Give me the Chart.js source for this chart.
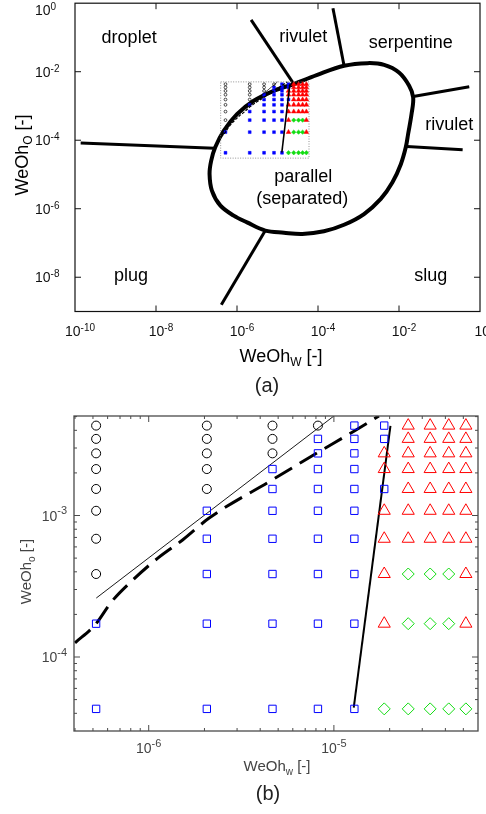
<!DOCTYPE html>
<html>
<head>
<meta charset="utf-8">
<script src="https://cdn.jsdelivr.net/npm/chart.js@4.4.1/dist/chart.umd.min.js"></script>
<style>
  html, body { margin: 0; padding: 0; background: #fff; }
  body { width: 486px; height: 814px; position: relative; overflow: hidden; }
  .panel { position: absolute; left: 0; width: 486px; }
  #panelA { top: 0; height: 400px; }
  #panelB { top: 400px; height: 414px; }
</style>
</head>
<body>
<div class="panel" id="panelA"><canvas id="mapChart"></canvas></div>
<div class="panel" id="panelB"><canvas id="zoomChart"></canvas></div>
<script>
// measured operating grid (panel b), WeOh of water (columns) and oil (rows, top first)
const weOhW = [5.2e-7, 2.06e-6, 4.66e-6, 8.2e-6, 1.29e-5, 1.87e-5, 2.52e-5, 3.31e-5, 4.17e-5, 5.16e-5];
const weOhO = [4.32e-3, 3.48e-3, 2.75e-3, 2.13e-3, 1.54e-3, 1.08e-3, 6.85e-4, 3.86e-4, 1.72e-4, 4.3e-5];
// observed regime per column: o droplet, s parallel, t rivulet, d serpentine
const regimeByColumn = [
  "ooooooooss",
  "ooooosssss",
  "ooosssssss",
  "osssssssss",
  "ssssssssss",
  "ssttsttttd",
  "tttttttddd",
  "tttttttddd",
  "tttttttddd",
  "tttttttttd"
];

// panel b boundaries
const fitLineW = [5.21e-7, 1.0e-5];
const fitLineO = [2.61e-4, 5.05e-3];
const dashedW = [4.0e-7, 5.14e-7, 6.32e-7, 8.24e-7, 1.12e-6, 1.53e-6, 2.12e-6, 4.66e-6, 8.2e-6, 1.29e-5, 1.75e-5];
const dashedO = [1.26e-4, 1.69e-4, 2.47e-4, 3.52e-4, 5.0e-4, 6.74e-4, 9.59e-4, 1.79e-3, 2.79e-3, 3.96e-3, 5.06e-3];
const transitionW = [1.28e-5, 2.02e-5];
const transitionO = [4.38e-5, 4.3e-3];

// panel a: parallel-flow envelope and regime boundaries
const envelopeW = [2.54e-5, 9.6e-5, 4.4e-4, 1.66e-3, 4.3e-3, 1.0e-2, 1.78e-2, 2.24e-2, 2.04e-2, 1.68e-2, 1.47e-2,
  1.11e-2, 6.9e-3, 3.55e-3, 1.37e-3, 4.4e-4, 1.4e-4, 4.1e-5, 1.44e-5, 5.0e-6, 1.77e-6, 8.3e-7, 3.9e-7, 2.4e-7,
  2.1e-7, 2.3e-7, 2.9e-7, 4.7e-7, 1.0e-6, 2.6e-6, 8.1e-6, 2.54e-5];
const envelopeO = [4.35e-3, 8.1e-3, 1.49e-2, 1.78e-2, 1.59e-2, 9.5e-3, 3.9e-3, 1.77e-3, 5.8e-4, 1.52e-4, 6.2e-5,
  2.0e-5, 5.9e-6, 1.93e-6, 7.0e-7, 3.4e-7, 2.2e-7, 1.84e-7, 2.0e-7, 2.3e-7, 4.0e-7, 6.3e-7, 1.23e-6, 3.4e-6,
  1.04e-5, 2.5e-5, 6.2e-5, 1.89e-4, 5.8e-4, 1.42e-3, 2.77e-3, 4.35e-3];
const boundaryW = [
  [2.23e-6, 2.54e-5],
  [2.34e-4, 4.4e-4],
  [2.24e-2, 0.543],
  [1.56e-2, 0.373],
  [1.38e-10, 2.8e-7],
  [5.0e-6, 4.1e-7]
];
const boundaryO = [
  [0.326, 4.35e-3],
  [0.715, 1.49e-2],
  [1.89e-3, 3.63e-3],
  [6.6e-5, 5.3e-5],
  [8.3e-5, 5.8e-5],
  [2.3e-7, 1.57e-9]
];
const regionNames = ["droplet", "rivulet", "serpentine", "rivulet", "parallel", "(separated)", "plug", "slug"];
const regionW = [2.17e-9, 4.3e-5, 1.96e-2, 0.174, 4.3e-5, 4.1e-5, 2.43e-9, 6.1e-2];
const regionO = [0.099, 0.104, 0.071, 2.83e-4, 8.2e-6, 1.93e-6, 1.12e-8, 1.12e-8];

// axis ranges and labelled ticks
const mapRangeW = [1e-10, 1];
const mapRangeO = [1e-9, 1];
const mapTicksW = [1e-10, 1e-8, 1e-6, 1e-4, 1e-2, 1];
const mapTicksO = [1e-8, 1e-6, 1e-4, 1e-2, 1];
const zoomRangeW = [3.95e-7, 6.0e-5];
const zoomRangeO = [3.0e-5, 5.05e-3];

const FONT = "'Liberation Sans', Arial, sans-serif";

function isDecade(v) {
  const l = Math.log10(v);
  return Math.abs(l - Math.round(l)) < 1e-9;
}

// 1..9 x 10^n inside a range, for the minor tick marks
function logTicks(min, max) {
  const out = [];
  for (let e = Math.floor(Math.log10(min)); e <= Math.ceil(Math.log10(max)); e++) {
    for (let k = 1; k < 10; k++) {
      const v = k * Math.pow(10, e);
      if (v >= min * 0.999 && v <= max * 1.001) out.push(v);
    }
  }
  return out;
}

function pts(xs, ys) {
  return xs.map((x, i) => ({ x: x, y: ys[i] }));
}

function lineSet(xs, ys, style) {
  return Object.assign({
    data: pts(xs, ys),
    showLine: true,
    pointRadius: 0,
    pointHoverRadius: 0,
    fill: false,
    borderColor: "#000",
    backgroundColor: "#000",
    borderWidth: 1
  }, style);
}

function regimePoints(code) {
  const out = [];
  weOhW.forEach((w, c) => {
    weOhO.forEach((o, r) => {
      if (regimeByColumn[c][r] === code) out.push({ x: w, y: o });
    });
  });
  return out;
}

const GREEN = "#12dc12";
const bigMarkers = {
  o: { label: "droplet", pointStyle: "circle", pointRadius: 4.5, pointBorderColor: "#000", pointBackgroundColor: "rgba(0,0,0,0)", pointBorderWidth: 1 },
  s: { label: "parallel", pointStyle: "rect", pointRadius: 5.2, pointBorderColor: "#0000ff", pointBackgroundColor: "rgba(0,0,0,0)", pointBorderWidth: 1 },
  t: { label: "rivulet", pointStyle: "triangle", pointRadius: 7, pointBorderColor: "#ff0000", pointBackgroundColor: "rgba(0,0,0,0)", pointBorderWidth: 1 },
  d: { label: "serpentine", pointStyle: "rectRot", pointRadius: 6, pointBorderColor: GREEN, pointBackgroundColor: "rgba(0,0,0,0)", pointBorderWidth: 1 }
};
const smallMarkers = {
  o: { label: "droplet", pointStyle: "circle", pointRadius: 1.4, pointBorderColor: "#000", pointBackgroundColor: "rgba(0,0,0,0)", pointBorderWidth: 0.7 },
  s: { label: "parallel", pointStyle: "rect", pointRadius: 2, pointBorderColor: "#0000ff", pointBackgroundColor: "#0000ff", pointBorderWidth: 0.5 },
  t: { label: "rivulet", pointStyle: "triangle", pointRadius: 2.7, pointBorderColor: "#ff0000", pointBackgroundColor: "#ff0000", pointBorderWidth: 0.5 },
  d: { label: "serpentine", pointStyle: "rectRot", pointRadius: 2.2, pointBorderColor: GREEN, pointBackgroundColor: GREEN, pointBorderWidth: 0.5 }
};

function markerSets(styles) {
  return ["o", "s", "t", "d"].map(code => Object.assign({
    data: regimePoints(code),
    showLine: false,
    pointHoverRadius: 0
  }, styles[code]));
}

function drawRich(ctx, parts, x, y, rotate, color) {
  ctx.save();
  ctx.translate(x, y);
  if (rotate) ctx.rotate(-Math.PI / 2);
  ctx.fillStyle = color;
  ctx.textAlign = "left";
  ctx.textBaseline = "alphabetic";
  let total = 0;
  parts.forEach(p => { ctx.font = p.size + "px " + FONT; total += ctx.measureText(p.text).width; });
  let cx = -total / 2;
  parts.forEach(p => {
    ctx.font = p.size + "px " + FONT;
    ctx.fillText(p.text, cx, p.dy || 0);
    cx += ctx.measureText(p.text).width;
  });
  ctx.restore();
}

// "10" with a raised exponent, as the decade tick labels are printed
function drawPower(ctx, v, x, y, align, L) {
  const e = String(Math.round(Math.log10(v)));
  ctx.font = L.base + "px " + FONT;
  const w1 = ctx.measureText("10").width;
  ctx.font = L.exp + "px " + FONT;
  const w2 = ctx.measureText(e).width;
  const total = w1 + w2;
  const left = align === "center" ? x - total / 2 : align === "right" ? x - total : x;
  ctx.textAlign = "left";
  ctx.textBaseline = "alphabetic";
  ctx.fillStyle = L.color;
  ctx.font = L.base + "px " + FONT;
  ctx.fillText("10", left, y);
  ctx.font = L.exp + "px " + FONT;
  ctx.fillText(e, left + w1, y + L.expDy);
}

// frame, inward ticks, decade labels and annotation text, drawn on top of the chart
function makeDecorations(cfg) {
  return {
    id: "decorations",
    afterDraw(chart) {
      const { ctx, chartArea: a, scales } = chart;
      const xs = scales.x, ys = scales.y;
      ctx.save();
      ctx.strokeStyle = cfg.color;
      ctx.lineWidth = cfg.tickWidth;
      ctx.beginPath();
      xs.ticks.forEach(t => {
        const p = xs.getPixelForValue(t.value);
        if (p <= a.left + 0.5 || p >= a.right - 0.5) return;
        const len = isDecade(t.value) ? cfg.major : cfg.minor;
        ctx.moveTo(p, a.bottom); ctx.lineTo(p, a.bottom - len);
        ctx.moveTo(p, a.top); ctx.lineTo(p, a.top + len);
      });
      ys.ticks.forEach(t => {
        const p = ys.getPixelForValue(t.value);
        if (p <= a.top + 0.5 || p >= a.bottom - 0.5) return;
        const len = isDecade(t.value) ? cfg.major : cfg.minor;
        ctx.moveTo(a.left, p); ctx.lineTo(a.left + len, p);
        ctx.moveTo(a.right, p); ctx.lineTo(a.right - len, p);
      });
      ctx.stroke();
      ctx.lineWidth = cfg.frameWidth;
      ctx.strokeRect(a.left, a.top, a.width, a.height);

      const L = cfg.labels;
      xs.ticks.forEach(t => {
        if (!isDecade(t.value)) return;
        drawPower(ctx, t.value, xs.getPixelForValue(t.value) + L.xOffset, a.bottom + L.xGap, "center", L);
      });
      ys.ticks.forEach(t => {
        if (!isDecade(t.value)) return;
        const p = Math.max(ys.getPixelForValue(t.value), a.top + L.topClamp);
        drawPower(ctx, t.value, L.yX, p + L.yShift, L.yAlign, L);
      });

      (cfg.regions || []).forEach(r => {
        ctx.fillStyle = "#000";
        ctx.font = "18px " + FONT;
        ctx.textAlign = "center";
        ctx.textBaseline = "middle";
        ctx.fillText(r.text, xs.getPixelForValue(r.x), ys.getPixelForValue(r.y));
      });

      (cfg.rich || []).forEach(r => drawRich(ctx, r.parts, r.x, r.y, r.rotate, r.color));
      ctx.restore();
    }
  };
}

function logAxis(range, tickValues, size, horizontal) {
  return {
    type: "logarithmic",
    min: range[0],
    max: range[1],
    grid: { display: false, drawTicks: false },
    border: { display: false },
    ticks: { display: false, autoSkip: false },
    afterBuildTicks: s => { s.ticks = tickValues.map(v => ({ value: v })); },
    afterFit: s => {
      if (horizontal) s.height = size; else s.width = size;
      s.paddingLeft = 0; s.paddingRight = 0; s.paddingTop = 0; s.paddingBottom = 0;
    }
  };
}

const rectW = [zoomRangeW[0], zoomRangeW[1], zoomRangeW[1], zoomRangeW[0], zoomRangeW[0]];
const rectO = [zoomRangeO[1], zoomRangeO[1], zoomRangeO[0], zoomRangeO[0], zoomRangeO[1]];

new Chart(document.getElementById("mapChart"), {
  type: "scatter",
  data: {
    datasets: [
      lineSet(rectW, rectO, { borderWidth: 0.8, borderColor: "#777", borderDash: [1, 1.5] }),
      lineSet(fitLineW, fitLineO, { borderWidth: 0.7 }),
      lineSet(dashedW, dashedO, { borderWidth: 1.2, borderDash: [3, 1.5], cubicInterpolationMode: "monotone" }),
      lineSet(transitionW, transitionO, { borderWidth: 1.6 }),
      ...markerSets(smallMarkers),
      lineSet(envelopeW, envelopeO, { borderWidth: 4, tension: 0.35 }),
      ...boundaryW.map((w, i) => lineSet(w, boundaryO[i], { borderWidth: 3 }))
    ]
  },
  options: {
    responsive: true,
    maintainAspectRatio: false,
    animation: false,
    events: [],
    layout: { padding: { left: 35, top: 2.3, right: 6, bottom: 0 } },
    plugins: { legend: { display: false }, tooltip: { enabled: false } },
    scales: {
      x: logAxis(mapRangeW, mapTicksW, 88.5, true),
      y: logAxis(mapRangeO, mapTicksO, 40, false)
    }
  },
  plugins: [makeDecorations({
    color: "#111", tickWidth: 1, frameWidth: 1.2, major: 6, minor: 3,
    labels: { color: "#111", base: 14, exp: 10, expDy: -5, xOffset: 5, xGap: 24.5, yX: 35, yAlign: "left", yShift: 5, topClamp: 7 },
    regions: regionNames.map((t, i) => ({ text: t, x: regionW[i], y: regionO[i] })),
    rich: [
      { parts: [{ text: "WeOh", size: 18 }, { text: "W", size: 12, dy: 4 }, { text: " [-]", size: 18 }], x: 281, y: 362, color: "#000" },
      { parts: [{ text: "WeOh", size: 18 }, { text: "O", size: 12, dy: 4 }, { text: " [-]", size: 18 }], x: 28, y: 155, rotate: true, color: "#000" },
      { parts: [{ text: "(a)", size: 20 }], x: 267, y: 392, color: "#222" }
    ]
  })]
});

new Chart(document.getElementById("zoomChart"), {
  type: "scatter",
  data: {
    datasets: [
      ...markerSets(bigMarkers),
      lineSet(fitLineW, fitLineO, { borderWidth: 0.9 }),
      lineSet(dashedW, dashedO, { borderWidth: 3, borderDash: [20, 9], cubicInterpolationMode: "monotone" }),
      lineSet(transitionW, transitionO, { borderWidth: 2 })
    ]
  },
  options: {
    responsive: true,
    maintainAspectRatio: false,
    animation: false,
    events: [],
    layout: { padding: { left: 0, top: 16, right: 5, bottom: 0 } },
    plugins: { legend: { display: false }, tooltip: { enabled: false } },
    scales: {
      x: logAxis(zoomRangeW, logTicks(zoomRangeW[0], zoomRangeW[1]), 83, true),
      y: logAxis(zoomRangeO, logTicks(zoomRangeO[0], zoomRangeO[1]), 74, false)
    }
  },
  plugins: [makeDecorations({
    color: "#4a4a4a", tickWidth: 1, frameWidth: 1.3, major: 6, minor: 3,
    labels: { color: "#444", base: 14, exp: 11, expDy: -6.5, xOffset: 0, xGap: 22.3, yX: 67, yAlign: "right", yShift: 5, topClamp: 0 },
    rich: [
      { parts: [{ text: "WeOh", size: 15 }, { text: "w", size: 10, dy: 4 }, { text: " [-]", size: 15 }], x: 277, y: 371, color: "#444" },
      { parts: [{ text: "WeOh", size: 15 }, { text: "o", size: 10, dy: 4 }, { text: " [-]", size: 15 }], x: 31, y: 171.5, rotate: true, color: "#444" },
      { parts: [{ text: "(b)", size: 20 }], x: 268, y: 400, color: "#222" }
    ]
  })]
});
</script>
</body>
</html>
